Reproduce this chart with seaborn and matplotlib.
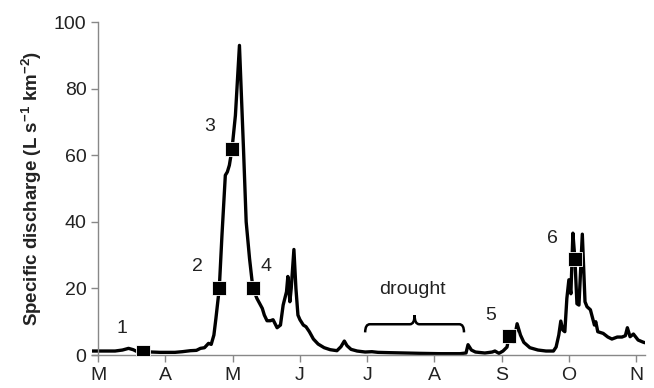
import matplotlib
matplotlib.use("Agg")
import matplotlib.pyplot as plt
import seaborn as sns
import pandas as pd
from matplotlib.path import Path
from matplotlib.patches import PathPatch

# time in months since 1 March
t = [-0.09, 0.03, 0.25, 0.36, 0.45, 0.52, 0.58, 0.67, 0.92, 1.14, 1.25, 1.37, 1.46, 1.52,
     1.58, 1.64, 1.68, 1.72, 1.75, 1.80, 1.84, 1.89, 1.92, 1.95, 1.99, 2.04, 2.10, 2.16,
     2.20, 2.25, 2.30, 2.36, 2.44, 2.47, 2.51, 2.56, 2.60, 2.66, 2.71, 2.75, 2.80, 2.82,
     2.85, 2.87, 2.91, 2.94, 2.97, 3.00, 3.05, 3.09, 3.14, 3.20, 3.27, 3.36, 3.45, 3.55,
     3.61, 3.66, 3.70, 3.76, 3.85, 3.97, 4.07, 4.16, 4.34, 4.57, 4.79, 5.09, 5.38, 5.47,
     5.50, 5.55, 5.61, 5.75, 5.86, 5.90, 5.96, 6.02, 6.08, 6.11, 6.15, 6.18, 6.23, 6.28,
     6.33, 6.42, 6.54, 6.66, 6.77, 6.81, 6.85, 6.88, 6.91, 6.94, 6.97, 7.00, 7.03, 7.06,
     7.09, 7.12, 7.15, 7.20, 7.24, 7.27, 7.32, 7.38, 7.40, 7.43, 7.51, 7.58, 7.64, 7.72,
     7.79, 7.84, 7.87, 7.91, 7.96, 8.03, 8.10, 8.13]
q = [1.2, 1.2, 1.2, 1.5, 2.0, 1.6, 1.0, 1.0, 0.8, 0.8, 1.0, 1.3, 1.4, 2.0,
     2.2, 3.5, 3.2, 6.0, 11.0, 20.0, 36.0, 54.0, 55.0, 57.0, 62.0, 72.0, 93.0, 62.0,
     40.0, 29.0, 20.0, 17.0, 14.0, 12.0, 10.3, 10.3, 10.6, 8.2, 9.0, 15.0, 19.0, 23.6,
     16.0, 20.0, 31.7, 20.0, 12.0, 10.6, 9.0, 8.5, 7.0, 4.8, 3.3, 2.2, 1.6, 1.3,
     2.5, 4.2, 2.8, 1.7, 1.2, 0.9, 1.0, 0.8, 0.7, 0.6, 0.5, 0.4, 0.4, 0.6,
     3.1, 1.5, 0.9, 0.6, 0.9, 1.2, 0.5, 1.2, 2.4, 5.7, 4.5, 3.8, 9.4, 6.0,
     3.8, 2.2, 1.5, 1.2, 1.2, 2.4, 6.0, 10.2, 7.5, 7.0, 17.0, 22.6, 18.4, 36.6,
     28.7, 15.4, 15.0, 36.3, 16.0, 14.5, 13.6, 9.0, 10.0, 7.0, 6.5, 5.4, 4.8, 5.4,
     5.4, 5.8, 8.2, 5.5, 6.3, 4.5, 3.9, 3.7]

# sampling events
event_labels = ["1", "2", "3", "4", "5", "6"]
event_t = [0.67, 1.80, 1.99, 2.30, 6.11, 7.09]
event_q = [0.9, 20.0, 62.0, 20.0, 5.7, 28.7]
label_t = [0.35, 1.47, 1.65, 2.50, 5.83, 6.75]
label_q = [8.0, 26.5, 68.5, 26.5, 12.0, 35.0]

month_pos = [0, 1, 2, 3, 4, 5, 6, 7, 8]
month_labels = ["M", "A", "M", "J", "J", "A", "S", "O", "N"]

drought_start, drought_end = 3.97, 5.44
drought_low, drought_high = 6.8, 12.0

sns.set_style("ticks")
plt.rcParams["font.family"] = ["Liberation Sans", "DejaVu Sans"]
plt.rcParams["mathtext.fontset"] = "custom"
plt.rcParams["mathtext.rm"] = "Liberation Sans:bold"
plt.rcParams["mathtext.it"] = "Liberation Sans:bold"

fig = plt.figure(figsize=(6.54, 3.88), dpi=100)
ax = fig.add_axes([0.141, 0.085, 0.845, 0.858])

df = pd.DataFrame({"t": t, "q": q})
sns.lineplot(data=df, x="t", y="q", ax=ax, color="black", linewidth=2.4)
ev = pd.DataFrame({"t": event_t, "q": event_q})
sns.scatterplot(data=ev, x="t", y="q", ax=ax, marker="s", s=115, color="black",
                edgecolor="white", linewidth=0.6, zorder=5)

for lab, x, y in zip(event_labels, label_t, label_q):
    ax.text(x, y, lab, fontsize=14, color="#222222", ha="center", va="center")

# brace for drought period
mid = (drought_start + drought_end) / 2
lvl = drought_low + (drought_high - drought_low) * 0.47
d = 0.07
verts = [(drought_start, drought_low), (drought_start, lvl), (drought_start + d, lvl),
         (mid - d, lvl), (mid, lvl), (mid, drought_high),
         (mid, lvl), (mid + d, lvl),
         (drought_end - d, lvl), (drought_end, lvl), (drought_end, drought_low)]
codes = [Path.MOVETO, Path.CURVE3, Path.CURVE3,
         Path.LINETO, Path.CURVE3, Path.CURVE3,
         Path.CURVE3, Path.CURVE3,
         Path.LINETO, Path.CURVE3, Path.CURVE3]
ax.add_patch(PathPatch(Path(verts, codes), fill=False, edgecolor="black", lw=1.8))
ax.text(mid - 0.03, 19.6, "drought", fontsize=14, color="#222222", ha="center", va="center")

ax.set_xlim(-0.09, 8.13)
ax.set_ylim(0, 100)
ax.set_xticks(month_pos)
ax.set_xticklabels(month_labels)
ax.set_yticks([0, 20, 40, 60, 80, 100])
ax.spines["left"].set_position(("data", 0))
ax.spines["top"].set_visible(False)
ax.spines["right"].set_visible(False)
for s in ["left", "bottom"]:
    ax.spines[s].set_color("#888888")
    ax.spines[s].set_linewidth(1.0)
ax.tick_params(axis="both", colors="#888888", labelcolor="#222222", labelsize=14,
               length=5, width=1.0)
ax.set_xlabel("")
ax.set_ylabel(r"Specific discharge (L s$^{-1}$ km$^{-2}$)", fontsize=13.5,
              fontweight="bold", color="#222222")
ax.yaxis.set_label_coords(-0.088, 0.5)

fig.savefig("out.png", dpi=100)
